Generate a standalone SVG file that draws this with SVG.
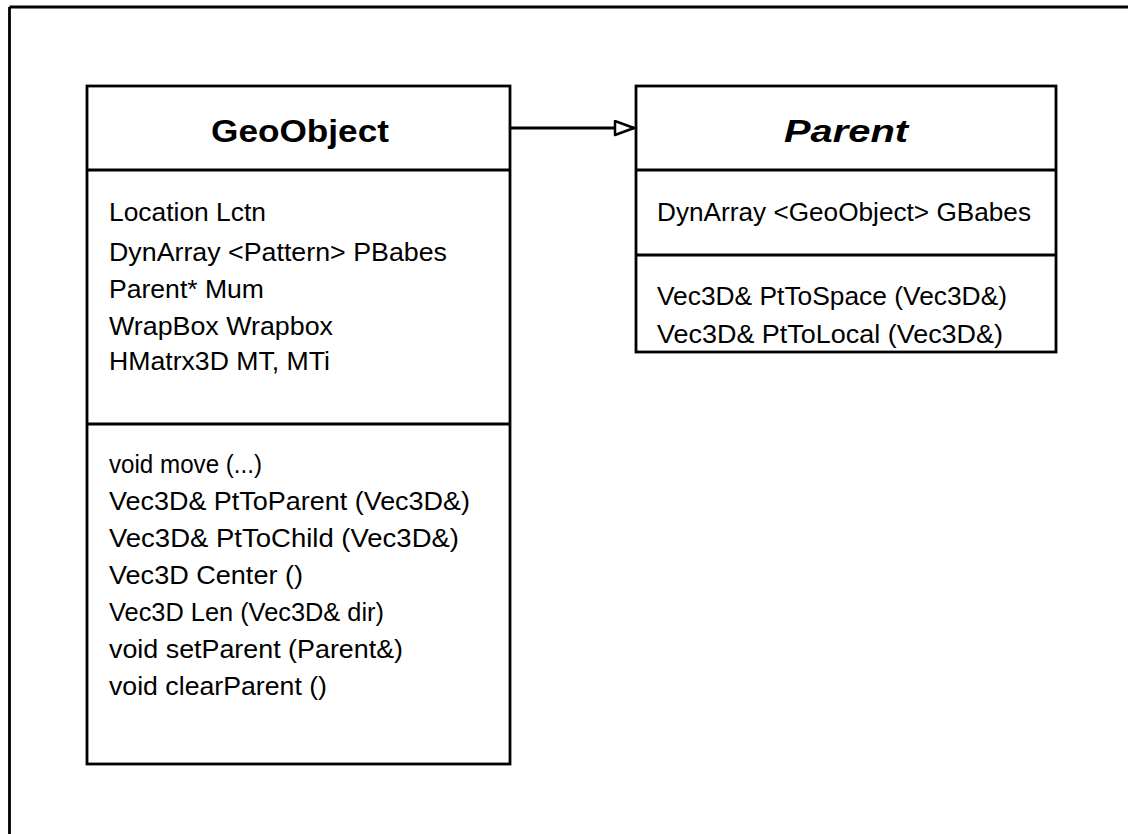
<svg xmlns="http://www.w3.org/2000/svg" width="1128" height="834" viewBox="0 0 1128 834">
<defs>
<style>
.box{fill:#fff;stroke:#000;stroke-width:2.8}
.ln{stroke:#000;stroke-width:2.8;fill:none}
.t{font-family:"Liberation Sans",Arial,sans-serif;font-size:25px;fill:#000}
.h{font-family:"Liberation Sans",Arial,sans-serif;font-size:32px;font-weight:bold;fill:#000;text-anchor:middle}
</style>
<marker id="tri" markerWidth="24" markerHeight="18" refX="21" refY="8" orient="auto" markerUnits="userSpaceOnUse">
<path d="M2,1 L21,8 L2,15 Z" fill="#fff" stroke="#000" stroke-width="2.5" stroke-linejoin="round"/>
</marker>
</defs>
<rect width="1128" height="834" fill="#fff"/>
<g id="frame">
<path class="ln" d="M9.5,7 H1128 M9.5,7 V834" stroke-width="3"/>
</g>
<g id="GeoObject">
<rect class="box" x="87" y="86" width="423" height="678"/>
<line class="ln" x1="87" y1="170" x2="510" y2="170"/>
<line class="ln" x1="87" y1="424" x2="510" y2="424"/>
<text class="h" x="300" y="142" textLength="178" lengthAdjust="spacingAndGlyphs">GeoObject</text>
<text class="t" x="109" y="221" textLength="157" lengthAdjust="spacingAndGlyphs">Location Lctn</text>
<text class="t" x="109" y="261" textLength="338" lengthAdjust="spacingAndGlyphs">DynArray &lt;Pattern&gt; PBabes</text>
<text class="t" x="109" y="298" textLength="155" lengthAdjust="spacingAndGlyphs">Parent* Mum</text>
<text class="t" x="109" y="335" textLength="224" lengthAdjust="spacingAndGlyphs">WrapBox Wrapbox</text>
<text class="t" x="109" y="370" textLength="221" lengthAdjust="spacingAndGlyphs">HMatrx3D MT, MTi</text>
<text class="t" x="109" y="473" textLength="153" lengthAdjust="spacingAndGlyphs">void move (...)</text>
<text class="t" x="109" y="510" textLength="361" lengthAdjust="spacingAndGlyphs">Vec3D&amp; PtToParent (Vec3D&amp;)</text>
<text class="t" x="109" y="547" textLength="350" lengthAdjust="spacingAndGlyphs">Vec3D&amp; PtToChild (Vec3D&amp;)</text>
<text class="t" x="109" y="584" textLength="194" lengthAdjust="spacingAndGlyphs">Vec3D Center ()</text>
<text class="t" x="109" y="621" textLength="275" lengthAdjust="spacingAndGlyphs">Vec3D Len (Vec3D&amp; dir)</text>
<text class="t" x="109" y="658" textLength="294" lengthAdjust="spacingAndGlyphs">void setParent (Parent&amp;)</text>
<text class="t" x="109" y="695" textLength="218" lengthAdjust="spacingAndGlyphs">void clearParent ()</text>
</g>
<g id="Parent">
<rect class="box" x="636" y="86" width="420" height="266"/>
<line class="ln" x1="636" y1="170" x2="1056" y2="170"/>
<line class="ln" x1="636" y1="255" x2="1056" y2="255"/>
<text class="h" x="846" y="142" font-style="italic" textLength="124" lengthAdjust="spacingAndGlyphs">Parent</text>
<text class="t" x="657" y="221" textLength="374" lengthAdjust="spacingAndGlyphs">DynArray &lt;GeoObject&gt; GBabes</text>
<text class="t" x="657" y="305" textLength="350" lengthAdjust="spacingAndGlyphs">Vec3D&amp; PtToSpace (Vec3D&amp;)</text>
<text class="t" x="657" y="343" textLength="346" lengthAdjust="spacingAndGlyphs">Vec3D&amp; PtToLocal (Vec3D&amp;)</text>
</g>
<g id="connectors">
<line class="ln" x1="511" y1="128" x2="634" y2="128" marker-end="url(#tri)"/>
</g>
</svg>
